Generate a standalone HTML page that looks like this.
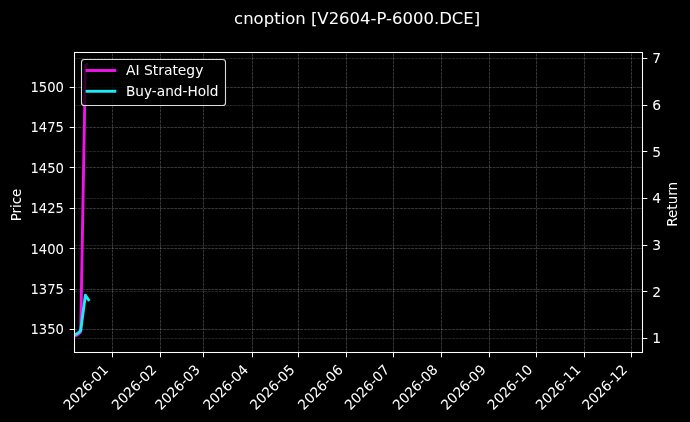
<!DOCTYPE html>
<html lang="en"><head><meta charset="utf-8"><title>cnoption [V2604-P-6000.DCE]</title>
<style>html,body{margin:0;padding:0;background:#000;overflow:hidden}svg{display:block}</style></head>
<body>
<svg width="690" height="422" viewBox="0 0 690 422" font-family="'DejaVu Sans', 'Liberation Sans', sans-serif" fill="#fff">
<rect width="690" height="422" fill="#000"/>
<g stroke="#fff" stroke-width="0.7" stroke-dasharray="2.9 0.8" fill="none" stroke-opacity="0.3">
<path d="M112.50 352.5V52.5"/>
<path d="M160.50 352.5V52.5"/>
<path d="M203.50 352.5V52.5"/>
<path d="M252.50 352.5V52.5"/>
<path d="M298.50 352.5V52.5"/>
<path d="M346.50 352.5V52.5"/>
<path d="M393.50 352.5V52.5"/>
<path d="M441.50 352.5V52.5"/>
<path d="M489.50 352.5V52.5"/>
<path d="M536.50 352.5V52.5"/>
<path d="M584.50 352.5V52.5"/>
<path d="M631.50 352.5V52.5"/>
<path d="M74.5 87.50H642.5"/>
<path d="M74.5 127.50H642.5"/>
<path d="M74.5 167.50H642.5"/>
<path d="M74.5 208.50H642.5"/>
<path d="M74.5 248.50H642.5"/>
<path d="M74.5 289.50H642.5"/>
<path d="M74.5 329.50H642.5"/>
</g>
<g stroke="#fff" stroke-width="0.7" stroke-dasharray="2.9 0.8" fill="none" stroke-opacity="0.2">
<path d="M74.5 58.50H642.5"/>
<path d="M74.5 105.50H642.5"/>
<path d="M74.5 151.50H642.5"/>
<path d="M74.5 198.50H642.5"/>
<path d="M74.5 245.50H642.5"/>
<path d="M74.5 291.50H642.5"/>
<path d="M74.5 338.50H642.5"/>
</g>
<clipPath id="c"><rect x="74.5" y="52.5" width="568.0" height="300.0"/></clipPath>
<g clip-path="url(#c)" fill="none" stroke-width="2.9" stroke-linejoin="round" stroke-linecap="square">
<path stroke="#f212ea" d="M74.5 336.2 L77.6 334.6 L80.7 331.8 L85.4 65.5 L86.9 64.5"/>
<path stroke="#1ceaf2" d="M74.5 334.8 L76.05 334.2 L77.6 333.3 L79.15 332.1 L80.7 330.3 L85.4 295.2 L88.5 299.8"/>
</g>
<rect x="74.5" y="52.5" width="568.0" height="300.0" fill="none" stroke="#fff" stroke-width="1.05"/>
<g stroke="#fff" stroke-width="1.05" fill="none">
<path d="M112.50 352.5v4.86"/>
<path d="M160.50 352.5v4.86"/>
<path d="M203.50 352.5v4.86"/>
<path d="M252.50 352.5v4.86"/>
<path d="M298.50 352.5v4.86"/>
<path d="M346.50 352.5v4.86"/>
<path d="M393.50 352.5v4.86"/>
<path d="M441.50 352.5v4.86"/>
<path d="M489.50 352.5v4.86"/>
<path d="M536.50 352.5v4.86"/>
<path d="M584.50 352.5v4.86"/>
<path d="M631.50 352.5v4.86"/>
<path d="M74.5 87.50h-4.86"/>
<path d="M74.5 127.50h-4.86"/>
<path d="M74.5 167.50h-4.86"/>
<path d="M74.5 208.50h-4.86"/>
<path d="M74.5 248.50h-4.86"/>
<path d="M74.5 289.50h-4.86"/>
<path d="M74.5 329.50h-4.86"/>
<path d="M642.5 58.50h4.86"/>
<path d="M642.5 105.50h4.86"/>
<path d="M642.5 151.50h4.86"/>
<path d="M642.5 198.50h4.86"/>
<path d="M642.5 245.50h4.86"/>
<path d="M642.5 291.50h4.86"/>
<path d="M642.5 338.50h4.86"/>
</g>
<g font-size="13.889">
<text transform="translate(63.9 91.95) scale(0.947 1)" text-anchor="end">1500</text>
<text transform="translate(63.9 132.35) scale(0.947 1)" text-anchor="end">1475</text>
<text transform="translate(63.9 172.75) scale(0.947 1)" text-anchor="end">1450</text>
<text transform="translate(63.9 213.15) scale(0.947 1)" text-anchor="end">1425</text>
<text transform="translate(63.9 253.55) scale(0.947 1)" text-anchor="end">1400</text>
<text transform="translate(63.9 293.95) scale(0.947 1)" text-anchor="end">1375</text>
<text transform="translate(63.9 334.35) scale(0.947 1)" text-anchor="end">1350</text>
<text x="652.22" y="63.20">7</text>
<text x="652.22" y="109.87">6</text>
<text x="652.22" y="156.54">5</text>
<text x="652.22" y="203.21">4</text>
<text x="652.22" y="249.88">3</text>
<text x="652.22" y="296.55">2</text>
<text x="652.22" y="343.22">1</text>
<text transform="translate(109.20 370.72) rotate(-45) scale(0.975 1)" text-anchor="end">2026-01</text>
<text transform="translate(157.36 370.72) rotate(-45) scale(0.975 1)" text-anchor="end">2026-02</text>
<text transform="translate(200.86 370.72) rotate(-45) scale(0.975 1)" text-anchor="end">2026-03</text>
<text transform="translate(249.02 370.72) rotate(-45) scale(0.975 1)" text-anchor="end">2026-04</text>
<text transform="translate(295.63 370.72) rotate(-45) scale(0.975 1)" text-anchor="end">2026-05</text>
<text transform="translate(343.79 370.72) rotate(-45) scale(0.975 1)" text-anchor="end">2026-06</text>
<text transform="translate(390.40 370.72) rotate(-45) scale(0.975 1)" text-anchor="end">2026-07</text>
<text transform="translate(438.56 370.72) rotate(-45) scale(0.975 1)" text-anchor="end">2026-08</text>
<text transform="translate(486.72 370.72) rotate(-45) scale(0.975 1)" text-anchor="end">2026-09</text>
<text transform="translate(533.33 370.72) rotate(-45) scale(0.975 1)" text-anchor="end">2026-10</text>
<text transform="translate(581.49 370.72) rotate(-45) scale(0.975 1)" text-anchor="end">2026-11</text>
<text transform="translate(628.10 370.72) rotate(-45) scale(0.975 1)" text-anchor="end">2026-12</text>
<text transform="translate(20.5 205) rotate(-90) scale(0.965 1)" text-anchor="middle">Price</text>
<text transform="translate(676.9 204.3) rotate(-90) scale(0.975 1)" text-anchor="middle">Return</text>
</g>
<text transform="translate(357.15 23.6) scale(0.9895 1)" font-size="16.667" text-anchor="middle">cnoption [V2604-P-6000.DCE]</text>
<rect x="81.5" y="59.5" width="144" height="46" rx="2.8" fill="#000" fill-opacity="0.8" stroke="#fff" stroke-opacity="0.86" stroke-width="1.1"/>
<g fill="none" stroke-width="2.9" stroke-linecap="square">
<path stroke="#f212ea" d="M87.06 70.5h27.78"/>
<path stroke="#1ceaf2" d="M87.06 91.3h27.78"/>
</g>
<g font-size="13.889">
<text x="125.95" y="75.3">AI Strategy</text>
<text transform="translate(125.95 96.1) scale(0.985 1)">Buy-and-Hold</text>
</g>
</svg>
</body></html>
